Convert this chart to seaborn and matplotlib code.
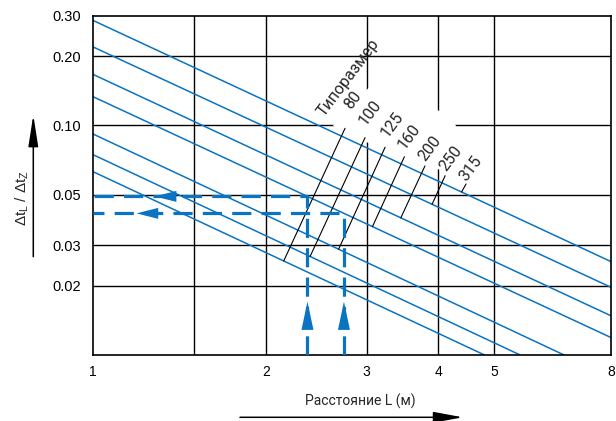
import numpy as np
import pandas as pd
import matplotlib
matplotlib.use("Agg")
import matplotlib.pyplot as plt
from matplotlib.patches import Polygon
from matplotlib.ticker import NullLocator
import seaborn as sns

# ratio of the temperature drops vs. distance, one line per pipe size
sizes = [80, 100, 125, 160, 200, 250, 315]
ratio_at_1m = [0.0629, 0.0746, 0.0918, 0.1335, 0.167, 0.220, 0.287]
end_L = [4.81, 5.55, 6.62, 8, 8, 8, 8]
end_ratio = [0.01, 0.01, 0.01, 0.0119, 0.0148, 0.0197, 0.0255]

# leader lines and labels of the sizes
leader_foot_L = [2.15, 2.39, 2.68, 3.07, 3.44, 3.90, 4.39]
leader_top_L = [2.75, 2.98, 3.23, 3.49, 3.79, 4.11, 4.47]
leader_top_ratio = [0.0972, 0.0885, 0.0804, 0.0731, 0.0666, 0.0604, 0.0556]
label_L = [2.82, 2.99, 3.26, 3.50, 3.80, 4.12, 4.47]
label_ratio = [0.1168, 0.0995, 0.0880, 0.0782, 0.0695, 0.0629, 0.0569]
title_L, title_ratio = 2.53, 0.109

# worked example (size 160)
example_size = 160
example_L = [2.365, 2.738]
example_arrow_left = [(1.281, 1.377), (1.191, 1.281)]
example_arrow_up = (0.01708, 0.01338)

x_ticks = [1, 2, 3, 4, 5, 8]
x_grid = [1.5, 2, 3, 4, 5]
y_ticks = [0.02, 0.03, 0.05, 0.10, 0.20, 0.30]
y_tick_labels = ["0.02", "0.03", "0.05", "0.10", "0.20", "0.30"]
y_grid = [0.02, 0.03, 0.05, 0.10, 0.20]

BLUE = "#0a73c2"
NARROW = ["Roboto", "DejaVu Sans"]


def on_line(i, L):
    # point on a size line (straight in log-log)
    t = np.log(L) / np.log(end_L[i])
    return np.exp(np.log(ratio_at_1m[i]) + t * (np.log(end_ratio[i]) - np.log(ratio_at_1m[i])))


def main():
    sns.set_theme(style="white")
    plt.rcParams["font.family"] = ["Liberation Sans", "DejaVu Sans"]
    plt.rcParams["mathtext.fontset"] = "custom"
    plt.rcParams["mathtext.rm"] = "Liberation Sans"
    plt.rcParams["mathtext.it"] = "Liberation Sans"

    rows = []
    for i, s in enumerate(sizes):
        rows.append({"L": 1.0, "ratio": ratio_at_1m[i], "size": s})
        rows.append({"L": end_L[i], "ratio": end_ratio[i], "size": s})
    df = pd.DataFrame(rows)

    fig = plt.figure(figsize=(6.16, 4.21), dpi=100)
    ax = fig.add_axes([0.151, 0.157, 0.841, 0.805])

    sns.lineplot(data=df, x="L", y="ratio", units="size", estimator=None,
                 color=BLUE, linewidth=1.1, legend=False, ax=ax, zorder=2)

    ax.set_xscale("log")
    ax.set_yscale("log")
    ax.set_xlim(1, 8)
    ax.set_ylim(0.01, 0.3)

    # grid
    for x in x_grid:
        ax.axvline(x, color="black", lw=1.0, zorder=0.8)
    for y in y_grid:
        ax.axhline(y, color="black", lw=1.0, zorder=0.8)

    # white area behind the size labels
    mask = Polygon([(0.463, 0.676), (0.532, 0.788), (0.669, 0.720), (0.697, 0.693),
                    (0.732, 0.510), (0.532, 0.625)], closed=True, transform=ax.transAxes,
                   facecolor="white", edgecolor="none", zorder=1)
    ax.add_patch(mask)

    ax.set_xticks(x_ticks)
    ax.set_xticklabels([str(v) for v in x_ticks])
    ax.set_yticks(y_ticks)
    ax.set_yticklabels(y_tick_labels)
    ax.xaxis.set_minor_locator(NullLocator())
    ax.yaxis.set_minor_locator(NullLocator())
    ax.tick_params(axis="x", length=0, pad=7, labelsize=10, colors="black")
    ax.tick_params(axis="y", length=0, pad=9, labelsize=10.5, colors="black")
    ax.set_xlabel("")
    ax.set_ylabel("")
    for sp in ax.spines.values():
        sp.set_color("black")
        sp.set_linewidth(1.2)

    # leaders and size labels
    for i, s in enumerate(sizes):
        ax.plot([leader_foot_L[i], leader_top_L[i]],
                [on_line(i, leader_foot_L[i]), leader_top_ratio[i]],
                color="black", lw=0.8, zorder=3)
        ax.text(label_L[i], label_ratio[i], str(s), rotation=53, rotation_mode="anchor",
                ha="left", va="baseline", fontsize=11.5, family=NARROW, zorder=4)
    ax.text(title_L, title_ratio, "Типоразмер", rotation=53, rotation_mode="anchor",
            ha="left", va="baseline", fontsize=11.5, family=NARROW, zorder=4)

    # worked example: dashed paths with arrows
    k = sizes.index(example_size)
    for j, L in enumerate(example_L):
        y = on_line(k, L)
        ax.plot([L, L, 1], [0.01, y, y], color=BLUE, lw=2.3,
                dashes=(6, 3.2), zorder=3, solid_capstyle="butt")
        tip, base = example_arrow_left[j]
        ax.annotate("", xy=(tip, y), xytext=(base, y),
                    arrowprops=dict(arrowstyle="-|>,head_length=1.3,head_width=0.33",
                                    color=BLUE, lw=0, shrinkA=0, shrinkB=0), zorder=4)
        ax.annotate("", xy=(L, example_arrow_up[0]), xytext=(L, example_arrow_up[1]),
                    arrowprops=dict(arrowstyle="-|>,head_length=1.7,head_width=0.36",
                                    color=BLUE, lw=0, shrinkA=0, shrinkB=0), zorder=4)

    # axis titles with arrows
    fig.text(22.5 / 616, 1 - 197.5 / 421, r"$\Delta t_L$ / $\Delta t_Z$", rotation=90,
             ha="center", va="center", fontsize=11)
    ax.annotate("", xy=(33.3 / 616, 306 / 421), xytext=(33.3 / 616, 164.3 / 421),
                xycoords="figure fraction", textcoords="figure fraction",
                arrowprops=dict(arrowstyle="-|>,head_length=1.6,head_width=0.25",
                                color="black", lw=1.1, shrinkA=0, shrinkB=0),
                annotation_clip=False)
    fig.text(360 / 616, 1 - 401.7 / 421, "Расстояние L (м)", ha="center", va="center",
             fontsize=10, family=NARROW)
    ax.annotate("", xy=(462.7 / 616, 3.7 / 421), xytext=(240 / 616, 3.7 / 421),
                xycoords="figure fraction", textcoords="figure fraction",
                arrowprops=dict(arrowstyle="-|>,head_length=1.5,head_width=0.28",
                                color="black", lw=1.1, shrinkA=0, shrinkB=0),
                annotation_clip=False)

    fig.savefig("out.png", dpi=100)
    plt.close(fig)


if __name__ == "__main__":
    main()
